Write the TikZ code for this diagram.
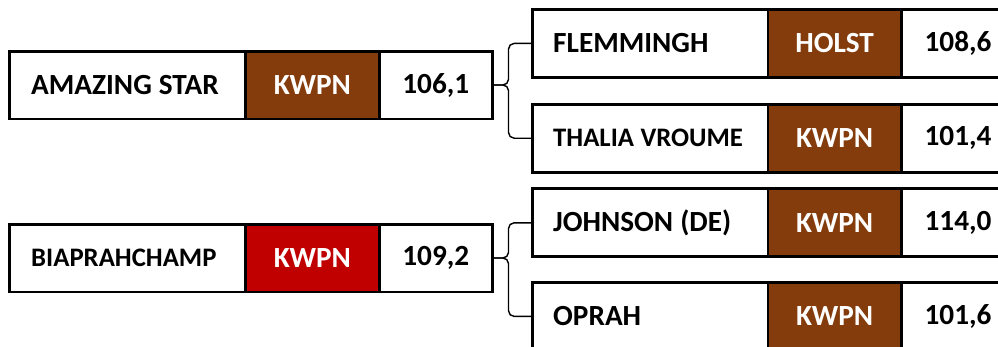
\documentclass[tikz,border=0pt]{standalone}
\usepackage{fontspec}
\setmainfont{Carlito}
\usetikzlibrary{positioning}

\definecolor{studbrown}{HTML}{843C0C}
\definecolor{studred}{HTML}{C00000}

\begin{document}
\begin{tikzpicture}[
    cell/.style={draw, line width=1pt, minimum height=1.66cm, inner ysep=0pt, font=\bfseries\fontsize{20.8}{23}\selectfont},
    small/.style={font=\bfseries\fontsize{19}{21}\selectfont},
    horse/.style={cell, inner xsep=0.53cm, text width=4.815cm, align=left, execute at begin node={\spaceskip=0.24em\relax}},
    foal/.style={horse, inner xsep=0.5cm, text width=4.85cm},
    stud/.style={cell, fill=studbrown, text=white, minimum width=3.3cm},
    score/.style={cell, minimum width=2.8cm},
    frame/.style={draw, line width=2pt},
    brace/.style={draw, line width=1pt, rounded corners=4pt}
]
\useasboundingbox (0,0) rectangle (24.95,-8.65);

% Parents
\node[horse] (ama) at (3.1875,-2.125) {AMAZING STAR};
\node[stud, right=0pt of ama] (amaStud) {KWPN};
\node[score, right=0pt of amaStud] (amaScore) {106,1};

\node[horse, small] (bia) at (3.1875,-6.45) {BIAPRAHCHAMP};
\node[stud, fill=studred, right=0pt of bia] (biaStud) {KWPN};
\node[score, right=0pt of biaStud] (biaScore) {109,2};

% Children
\node[foal, right=1cm of amaScore, yshift=1.04cm] (fle) {FLEMMINGH};
\node[stud, right=0pt of fle] (fleStud) {HOLST};
\node[score, right=0pt of fleStud] (fleScore) {108,6};

\node[foal, small, right=1cm of amaScore, yshift=-1.33cm] (tha) {THALIA VROUME};
\node[stud, right=0pt of tha] (thaStud) {KWPN};
\node[score, right=0pt of thaStud] (thaScore) {101,4};

\node[foal, right=1cm of biaScore, yshift=0.88cm] (joh) {JOHNSON (DE)};
\node[stud, right=0pt of joh] (johStud) {KWPN};
\node[score, right=0pt of johStud] (johScore) {114,0};

\node[foal, right=1cm of biaScore, yshift=-1.46cm] (opr) {OPRAH};
\node[stud, right=0pt of opr] (oprStud) {KWPN};
\node[score, right=0pt of oprStud] (oprScore) {101,6};

\foreach \r in {ama,bia,fle,tha,joh,opr}
    \draw[frame] (\r.north west) rectangle (\r Score.south east);

% Braces
\coordinate (amaTip) at ([xshift=0.4cm]amaScore.east);
\coordinate (biaTip) at ([xshift=0.4cm]biaScore.east);
\draw[brace] (fle.west) -| (amaTip) -- (amaScore.east);
\draw[brace] (tha.west) -| (amaTip) -- (amaScore.east);
\draw[brace] (joh.west) -| (biaTip) -- (biaScore.east);
\draw[brace] (opr.west) -| (biaTip) -- (biaScore.east);

\end{tikzpicture}
\end{document}
